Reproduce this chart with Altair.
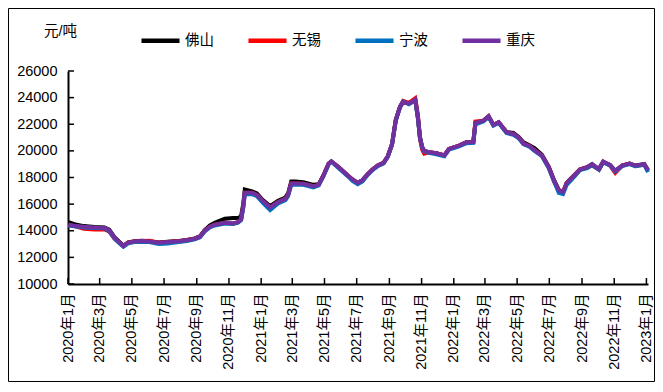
import altair as alt
import pandas as pd

dates = [
    "2020-01-02", "2020-01-13", "2020-01-31", "2020-02-20", "2020-03-10", "2020-03-19", "2020-03-29", "2020-04-07", "2020-04-15", "2020-04-24",
    "2020-05-06", "2020-05-19", "2020-06-03", "2020-06-21", "2020-07-08", "2020-07-29", "2020-08-13", "2020-08-28", "2020-09-07", "2020-09-16",
    "2020-09-26", "2020-10-05", "2020-10-24", "2020-11-09", "2020-11-18", "2020-11-24", "2020-11-28", "2020-12-01", "2020-12-15", "2020-12-24",
    "2021-01-03", "2021-01-18", "2021-02-02", "2021-02-16", "2021-02-21", "2021-02-27", "2021-03-07", "2021-03-22", "2021-04-10", "2021-04-20",
    "2021-04-29", "2021-05-09", "2021-05-14", "2021-05-28", "2021-06-14", "2021-06-23", "2021-07-03", "2021-07-12", "2021-07-22", "2021-07-31",
    "2021-08-10", "2021-08-21", "2021-08-29", "2021-09-06", "2021-09-13", "2021-09-21", "2021-09-27", "2021-10-08", "2021-10-20", "2021-10-25",
    "2021-10-29", "2021-11-02", "2021-11-06", "2021-11-15", "2021-11-29", "2021-12-14", "2021-12-23", "2022-01-11", "2022-01-25", "2022-02-07",
    "2022-02-11", "2022-02-26", "2022-03-08", "2022-03-17", "2022-03-27", "2022-04-11", "2022-04-24", "2022-05-04", "2022-05-13", "2022-05-25",
    "2022-06-03", "2022-06-17", "2022-06-30", "2022-07-10", "2022-07-19", "2022-07-27", "2022-08-03", "2022-08-17", "2022-08-28", "2022-09-11",
    "2022-09-20", "2022-10-03", "2022-10-11", "2022-10-24", "2022-11-03", "2022-11-16", "2022-11-30", "2022-12-11", "2022-12-28", "2023-01-04",
]

foshan = [
    14650, 14500, 14350, 14280, 14250, 14080, 13520, 13170, 12880, 13120,
    13220, 13250, 13220, 13120, 13170, 13240, 13300, 13420, 13580, 14050,
    14400, 14600, 14900, 14950, 14950, 15100, 16000, 17100, 16950, 16800,
    16350, 15850, 16250, 16500, 16800, 17700, 17700, 17650, 17450, 17500,
    18150, 19050, 19200, 18770, 18150, 17850, 17600, 17800, 18250, 18600,
    18900, 19100, 19600, 20500, 22300, 23300, 23700, 23550, 23850, 22500,
    21000, 20300, 20000, 19900, 19820, 19650, 20150, 20390, 20640, 20660,
    22100, 22260, 22600, 21950, 22150, 21400, 21350, 21050, 20650, 20400,
    20200, 19700, 18800, 17800, 17050, 16900, 17600, 18150, 18600, 18770,
    19000, 18600, 19150, 18950, 18500, 18900, 19050, 18900, 19000, 18550,
]

wuxi = [
    14450, 14350, 14150, 14100, 14100, 13950, 13400, 13100, 12850, 13100,
    13200, 13230, 13250, 13100, 13150, 13220, 13280, 13400, 13550, 14000,
    14300, 14450, 14600, 14550, 14650, 14850, 15800, 16850, 16850, 16700,
    16280, 15750, 16150, 16400, 16700, 17550, 17550, 17530, 17350, 17450,
    18150, 19050, 19200, 18770, 18150, 17850, 17600, 17800, 18250, 18600,
    18900, 19100, 19600, 20500, 22300, 23300, 23750, 23600, 23950, 22700,
    20900, 20100, 19800, 19900, 19820, 19650, 20150, 20390, 20640, 20660,
    22200, 22260, 22600, 21950, 22150, 21400, 21270, 21000, 20550, 20350,
    20050, 19650, 18770, 17700, 17050, 16900, 17600, 18150, 18600, 18770,
    18900, 18600, 19200, 18900, 18350, 18900, 19050, 18850, 19000, 18550,
]

ningbo = [
    14400, 14330, 14250, 14200, 14180, 13980, 13420, 13080, 12800, 13050,
    13150, 13180, 13150, 13000, 13050, 13150, 13230, 13350, 13500, 13950,
    14250, 14400, 14550, 14500, 14600, 14800, 15700, 16750, 16750, 16600,
    16150, 15550, 16050, 16300, 16600, 17450, 17450, 17450, 17250, 17400,
    18100, 19000, 19200, 18700, 18100, 17750, 17500, 17700, 18200, 18550,
    18850, 19050, 19550, 20450, 22250, 23250, 23700, 23500, 23800, 22450,
    20950, 20250, 19950, 19850, 19750, 19600, 20100, 20330, 20580, 20600,
    22000, 22200, 22550, 21900, 22100, 21350, 21200, 20950, 20500, 20300,
    20000, 19600, 18700, 17700, 16850, 16750, 17450, 18050, 18550, 18700,
    18950, 18600, 19150, 18900, 18450, 18850, 19000, 18850, 18950, 18400,
]

chongqing = [
    14450, 14380, 14300, 14250, 14230, 14050, 13500, 13150, 12850, 13100,
    13200, 13230, 13200, 13100, 13150, 13220, 13280, 13400, 13550, 14000,
    14300, 14450, 14600, 14550, 14650, 14850, 15800, 16850, 16850, 16700,
    16280, 15750, 16150, 16400, 16700, 17550, 17550, 17530, 17350, 17450,
    18150, 19050, 19200, 18770, 18150, 17850, 17600, 17800, 18250, 18600,
    18900, 19100, 19600, 20500, 22300, 23300, 23700, 23550, 23850, 22500,
    21000, 20300, 20000, 19900, 19820, 19650, 20150, 20390, 20640, 20660,
    22100, 22260, 22600, 21950, 22150, 21400, 21270, 21000, 20550, 20350,
    20050, 19650, 18770, 17780, 17050, 16900, 17600, 18150, 18600, 18770,
    19000, 18650, 19200, 18950, 18500, 18900, 19050, 18900, 19000, 18550,
]

series_names = ["佛山", "无锡", "宁波", "重庆"]
series_colors = ["#000000", "#FF0000", "#0070C0", "#7030A0"]
y_ticks = [10000, 12000, 14000, 16000, 18000, 20000, 22000, 24000, 26000]
x_ticks = [
    "2020-01-01", "2020-03-01", "2020-05-01", "2020-07-01", "2020-09-01", "2020-11-01",
    "2021-01-01", "2021-03-01", "2021-05-01", "2021-07-01", "2021-09-01", "2021-11-01",
    "2022-01-01", "2022-03-01", "2022-05-01", "2022-07-01", "2022-09-01", "2022-11-01",
    "2023-01-01",
]

rows = []
for name, vals in zip(series_names, [foshan, wuxi, ningbo, chongqing]):
    for d, v in zip(dates, vals):
        rows.append({"date": d, "series": name, "price": v})
df = pd.DataFrame(rows)

FONT = "Arial, 'Liberation Sans', 'Noto Sans CJK SC', sans-serif"
FS = 14.5

def dt(s):
    y, m, d = [int(p) for p in s.split("-")]
    return alt.DateTime(year=y, month=m, date=d, utc=True)

x_scale = alt.Scale(type="utc", domain=[dt("2020-01-01"), dt("2023-01-04")])
y_scale = alt.Scale(domain=[10000, 26000], nice=False, zero=False)

W, H = 580, 213
PAD = {"left": 60, "top": 63, "right": 7, "bottom": 98}

x_axis = alt.Axis(
    values=[dt(s) for s in x_ticks],
    format="%Y年%-m月",
    labelAngle=-90,
    labelAlign="right",
    labelBaseline="middle",
    labelPadding=9,
    tickSize=0,
    grid=False,
    title=None,
    domainColor="black",
    domainWidth=2,
    labelFontSize=FS,
    labelColor="black",
    labelFont=FONT,
    labelOverlap=False,
)

y_axis = alt.Axis(
    values=y_ticks,
    format="d",
    tickSize=0,
    labelPadding=11,
    grid=False,
    domainColor="black",
    domainWidth=2,
    labelFontSize=FS,
    labelColor="black",
    labelFont=FONT,
    title="元/吨",
    titleAngle=0,
    titleX=-8,
    titleY=-40,
    titleAlign="center",
    titleBaseline="middle",
    titleFontWeight="normal",
    titleFontSize=FS,
    titleFont=FONT,
    titleColor="black",
)

lines = alt.Chart(df).mark_line(strokeWidth=4).encode(
    x=alt.X("date:T", scale=x_scale, axis=x_axis, title=None),
    y=alt.Y("price:Q", scale=y_scale, axis=y_axis, title="元/吨"),
    color=alt.Color(
        "series:N",
        scale=alt.Scale(domain=series_names, range=series_colors),
        sort=series_names,
        legend=alt.Legend(
            orient="none",
            legendX=71,
            legendY=-52,
            direction="horizontal",
            title=None,
            symbolType="stroke",
            symbolSize=1450,
            symbolStrokeWidth=4.5,
            labelFontSize=FS,
            labelFont=FONT,
            labelColor="black",
            labelOffset=3,
            columnPadding=25,
        ),
    ),
)

ytick_layer = alt.Chart(pd.DataFrame({"v": y_ticks})).mark_rule(color="black", strokeWidth=1.5).encode(
    y=alt.Y("v:Q", scale=y_scale, axis=y_axis, title="元/吨"),
    x=alt.value(0),
    x2=alt.value(6),
)

xtick_layer = alt.Chart(pd.DataFrame({"d": x_ticks})).mark_rule(color="black", strokeWidth=1.5).encode(
    x=alt.X("d:T", scale=x_scale, axis=x_axis, title=None),
    y=alt.value(H),
    y2=alt.value(H - 6),
)

frame = alt.Chart(pd.DataFrame({"k": [0]})).mark_rect(filled=False, stroke="black", strokeWidth=1).encode(
    x=alt.value(-PAD["left"] + 0.5),
    x2=alt.value(W + PAD["right"] - 0.5),
    y=alt.value(-PAD["top"] + 0.5),
    y2=alt.value(H + PAD["bottom"] - 0.5),
)

chart = alt.layer(frame, lines, ytick_layer, xtick_layer).properties(
    width=W,
    height=H,
    padding=PAD,
    autosize=alt.AutoSizeParams(type="none"),
).configure(font=FONT).configure_view(stroke=None)

chart.save("out.html", embed_options={"renderer": "svg", "actions": False})
